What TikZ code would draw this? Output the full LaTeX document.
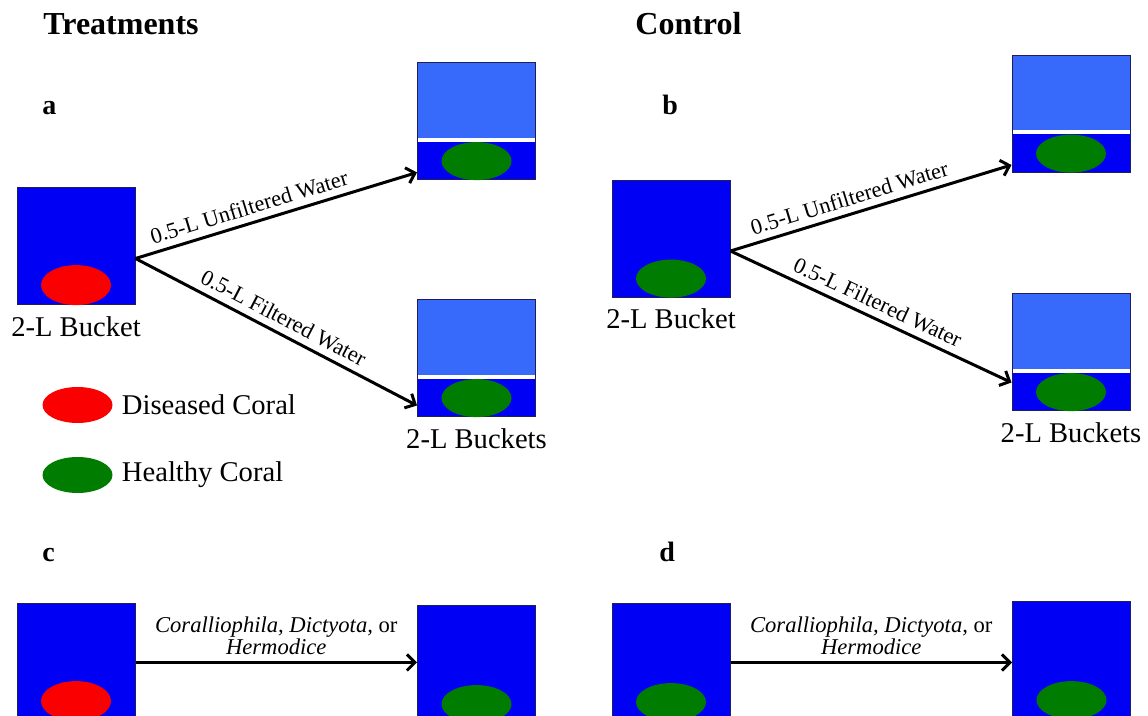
\documentclass[tikz,border=0pt]{standalone}
\usepackage{fontspec}
\setmainfont{Liberation Serif}
\usetikzlibrary{shapes.geometric, arrows.meta, positioning}
\usepackage{xcolor}

\definecolor{deepwater}{RGB}{0,0,245}
\definecolor{shallow}{RGB}{55,105,250}
\definecolor{rim}{RGB}{30,30,90}
\definecolor{sick}{RGB}{250,0,0}
\definecolor{well}{RGB}{0,125,0}

\begin{document}
\begin{tikzpicture}[x=0.5pt, y=-0.5pt,
            bucket/.style={rectangle, draw=rim, line width=0.5pt, fill=deepwater, minimum width=59pt, minimum height=58.5pt, inner sep=0pt},
            splitbucket/.style={bucket, path picture={
                \fill[shallow] (path picture bounding box.north west) rectangle ([yshift=20pt]path picture bounding box.south east);
                \draw[white, line width=2pt] ([yshift=20pt]path picture bounding box.south west) -- ([yshift=20pt]path picture bounding box.south east);}},
            diseased/.style={ellipse, fill=sick, minimum width=35pt, minimum height=20pt, inner sep=0pt},
            healthy/.style={ellipse, fill=well, minimum width=35pt, minimum height=19pt, inner sep=0pt},
            flow/.style={-{Straight Barb[length=4pt, width=8pt]}, line width=1.5pt},
            caption/.style={font=\fontsize{14.3}{17}\selectfont},
            heading/.style={font=\fontsize{16}{19}\selectfont\bfseries, anchor=base west, inner sep=0pt},
            panel/.style={font=\fontsize{14}{17}\selectfont\bfseries, anchor=base west, inner sep=0pt},
            route/.style={font=\fontsize{11.2}{13}\selectfont, sloped, above},
            vector/.style={font=\fontsize{11.3}{10}\selectfont\itshape, align=center, above=2pt, inner sep=1pt}]

        \useasboundingbox (0,0) rectangle (1148,716);
        \clip (0,0) rectangle (1148,716);

        % Headings and panel letters
        \node [heading] (treat) at (43,35) {Treatments};
        \node [heading] (ctrl) at (635,35) {Control};
        \node [panel] (pa) at (42,115) {a};
        \node [panel] (pb) at (662,115) {b};
        \node [panel] (pc) at (42,562) {c};
        \node [panel] (pd) at (659,562) {d};

        % Panel a
        \node [bucket] (srcA) at (76,246.5) {};
        \node [diseased, above=0pt of srcA.south] (coralA) {};
        \node [caption, below=2pt of srcA] (labA) {2-L Bucket};
        \node [splitbucket] (tA) at (476.5,121.5) {};
        \node [healthy, above=0pt of tA.south] (coralTA) {};
        \node [splitbucket] (tB) at (476.5,358.5) {};
        \node [healthy, above=0pt of tB.south] (coralTB) {};
        \node [caption, below=2pt of tB] (labTB) {2-L Buckets};

        \draw[flow] ([yshift=-6pt]srcA.east) -- node[route, pos=0.42] {0.5-L Unfiltered Water} ([yshift=4pt]tA.south west);
        \draw[flow] ([yshift=-6pt]srcA.east) -- node[route, pos=0.5] {0.5-L Filtered Water} ([yshift=6pt]tB.south west);

        % Legend
        \node [diseased, minimum height=18pt] (keyA) at (77.5,405) {};
        \node [caption, right=1pt of keyA] (keyAtext) {Diseased Coral};
        \node [healthy, minimum height=18pt] (keyB) at (77.5,475) {};
        \node [caption, right=1pt of keyB] (keyBtext) {Healthy Coral};

        % Panel b
        \node [bucket] (srcB) at (671,239) {};
        \node [healthy, above=0pt of srcB.south] (coralB) {};
        \node [caption, below=2pt of srcB] (labB) {2-L Bucket};
        \node [splitbucket] (tC) at (1071,114) {};
        \node [healthy, above=0pt of tC.south] (coralTC) {};
        \node [splitbucket] (tD) at (1071,352.5) {};
        \node [healthy, above=0pt of tD.south] (coralTD) {};
        \node [caption, below=2pt of tD] (labTD) {2-L Buckets};

        \draw[flow] ([yshift=-6pt]srcB.east) -- node[route, pos=0.44] {0.5-L Unfiltered Water} ([yshift=4pt]tC.south west);
        \draw[flow] ([yshift=-6pt]srcB.east) -- node[route, pos=0.5] {0.5-L Filtered Water} ([yshift=14.5pt]tD.south west);

        % Panel c
        \node [bucket] (srcC) at (76,662.5) {};
        \node [diseased, above=0pt of srcC.south] (coralC) {};
        \node [bucket] (tE) at (476.5,664.5) {};
        \node [healthy, above=0pt of tE.south] (coralTE) {};
        \draw[flow] (srcC.east) -- node[vector] {Coralliophila, Dictyota, {\upshape or}\\Hermodice} (srcC.east -| tE.west);

        % Panel d
        \node [bucket] (srcD) at (671,662.5) {};
        \node [healthy, above=0pt of srcD.south] (coralD) {};
        \node [bucket] (tF) at (1071.5,660.5) {};
        \node [healthy, above=0pt of tF.south] (coralTF) {};
        \draw[flow] (srcD.east) -- node[vector] {Coralliophila, Dictyota, {\upshape or}\\Hermodice} (srcD.east -| tF.west);

    \end{tikzpicture}
\end{document}
